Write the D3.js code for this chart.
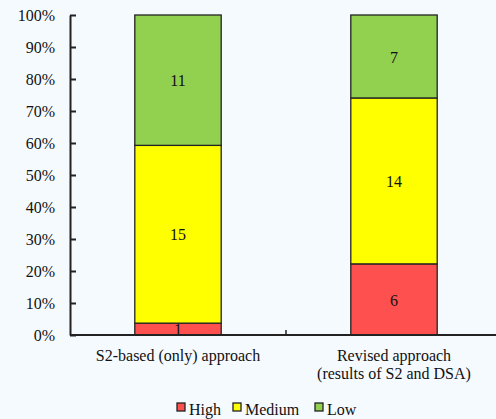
<!DOCTYPE html>
<html>
<head>
<meta charset="utf-8">
<script src="https://cdn.jsdelivr.net/npm/d3@7"></script>
<style>
  html, body { margin: 0; padding: 0; background: #f5faff; }
  svg { display: block; }
  svg text { font-family: 'Liberation Serif', 'Times New Roman', serif; fill: #111; }
</style>
</head>
<body>
<svg id="chart" width="496" height="419"></svg>
<script>
// Categories (multi-line labels) and counts per risk level
const categories = ["S2-based (only) approach", "Revised approach"];
const categoryLines = [["S2-based (only) approach"], ["Revised approach", "(results of S2 and DSA)"]];
const levels = ["High", "Medium", "Low"];
const highCounts = [1, 6];
const mediumCounts = [15, 14];
const lowCounts = [11, 7];
const levelColors = ["#ff5050", "#ffff00", "#92d050"];
const yTicks = [0, 0.1, 0.2, 0.3, 0.4, 0.5, 0.6, 0.7, 0.8, 0.9, 1.0];

const FONT = "'Liberation Serif', 'Times New Roman', serif";
const FS = "16px";

const svg = d3.select("#chart");
const margin = { left: 70, right: -6, top: 15, bottom: 84 };
const W = 496, H = 419;

const rows = categories.map((c, i) => ({
  category: c,
  High: highCounts[i],
  Medium: mediumCounts[i],
  Low: lowCounts[i]
}));

const stack = d3.stack().keys(levels).offset(d3.stackOffsetExpand);
const series = stack(rows);

const x = d3.scaleBand()
  .domain(categories)
  .range([margin.left, W - margin.right])
  .paddingInner(0.6)
  .paddingOuter(0.3);
const xOuter = d3.scaleBand().domain(categories).range([margin.left, W - margin.right]);

const y = d3.scaleLinear().domain([0, 1]).range([H - margin.bottom, margin.top]);

// Bars
const groups = svg.append("g").selectAll("g")
  .data(series).join("g")
  .attr("fill", (d, i) => levelColors[i]);

groups.selectAll("rect")
  .data(d => d.map(v => ({ v, key: d.key })))
  .join("rect")
  .attr("x", d => x(d.v.data.category))
  .attr("width", x.bandwidth())
  .attr("y", d => y(d.v[1]))
  .attr("height", d => y(d.v[0]) - y(d.v[1]))
  .attr("stroke", "#222")
  .attr("stroke-width", 1.3);

// Value labels at segment centres
groups.selectAll("text")
  .data(d => d.map(v => ({ v, key: d.key })))
  .join("text")
  .attr("x", d => x(d.v.data.category) + x.bandwidth() / 2)
  .attr("y", d => (y(d.v[0]) + y(d.v[1])) / 2)
  .attr("dy", "0.38em")
  .attr("text-anchor", "middle")
  .style("font-family", FONT)
  .style("font-size", FS)
  .text(d => d.v.data[d.key]);

// Y axis
const yAxis = svg.append("g")
  .attr("transform", `translate(${margin.left},0)`)
  .call(d3.axisRight(y).tickValues(yTicks).tickFormat(d3.format(".0%")).tickSize(6).tickSizeOuter(0));
yAxis.attr("font-family", FONT);
yAxis.select(".domain").attr("stroke", "#222").attr("stroke-width", 2);
yAxis.selectAll(".tick line").attr("stroke", "#222").attr("stroke-width", 2);
yAxis.selectAll(".tick text")
  .attr("x", -15)
  .attr("text-anchor", "end")
  .style("font-size", FS)
  .style("font-family", FONT)
  .attr("fill", "#111");

// X axis line with inward ticks at category boundaries
const base = y(0);
svg.append("line")
  .attr("x1", margin.left).attr("x2", W)
  .attr("y1", base).attr("y2", base)
  .attr("stroke", "#222").attr("stroke-width", 2);
svg.append("g").selectAll("line")
  .data(categories.slice(1))
  .join("line")
  .attr("x1", d => xOuter(d)).attr("x2", d => xOuter(d))
  .attr("y1", base).attr("y2", base - 5)
  .attr("stroke", "#222").attr("stroke-width", 1.5);

// Category labels
svg.append("g").selectAll("text")
  .data(categories)
  .join("text")
  .attr("x", d => x(d) + x.bandwidth() / 2)
  .attr("y", base + 26)
  .attr("text-anchor", "middle")
  .style("font-family", FONT)
  .style("font-size", FS)
  .selectAll("tspan")
  .data((d, i) => categoryLines[i])
  .join("tspan")
  .attr("x", function () { return this.parentNode.getAttribute("x"); })
  .attr("dy", (d, j) => j === 0 ? 0 : 17.5)
  .text(d => d);

// Legend
const legendX = [177, 233, 315];
const legend = svg.append("g").selectAll("g")
  .data(levels)
  .join("g")
  .attr("transform", (d, i) => `translate(${legendX[i]},403)`);
legend.append("rect")
  .attr("width", 8).attr("height", 8)
  .attr("fill", (d, i) => levelColors[i])
  .attr("stroke", "#222").attr("stroke-width", 1.3);
legend.append("text")
  .attr("x", 12).attr("y", 12)
  .style("font-family", FONT)
  .style("font-size", FS)
  .text(d => d);
</script>
</body>
</html>
